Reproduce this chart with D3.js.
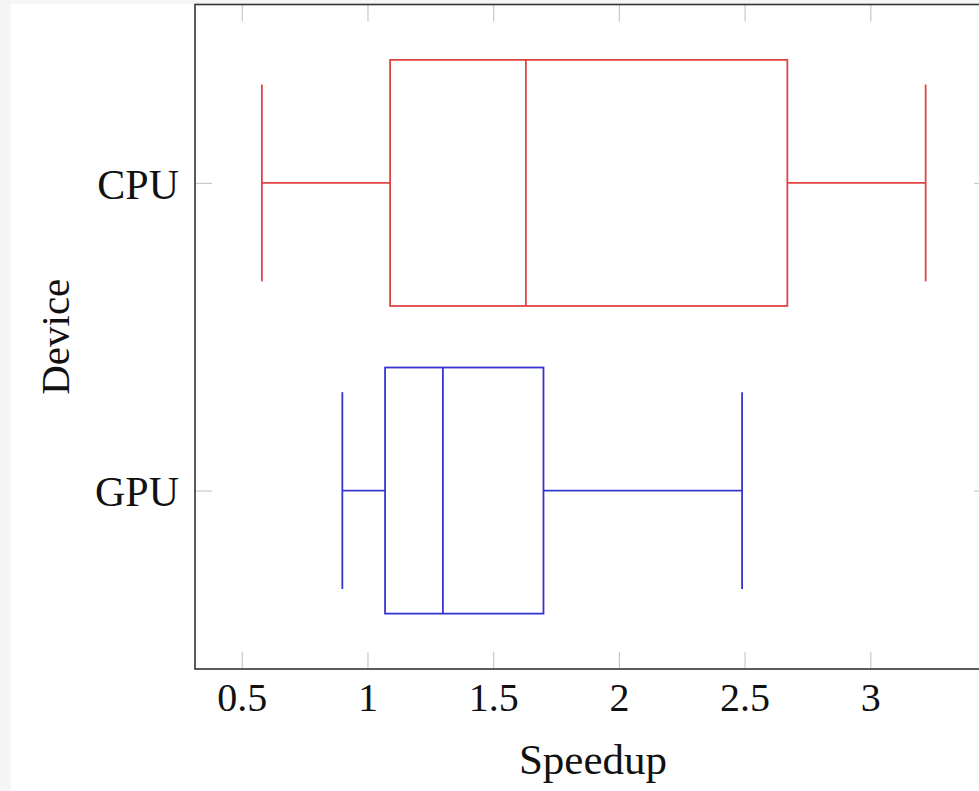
<!DOCTYPE html>
<html>
<head>
<meta charset="utf-8">
<script src="https://cdn.jsdelivr.net/npm/d3@7"></script>
<style>
  html, body { margin: 0; padding: 0; background: #f5f5f5; }
  svg { display: block; }
</style>
</head>
<body>
<svg id="chart" width="979" height="791"></svg>
<script>
// Box-plot summary statistics per device
const devices        = ["CPU", "GPU"];
const devicePos      = [2, 1];
const lowerWhisker   = [0.58, 0.90];
const lowerQuartile  = [1.09, 1.07];
const medians        = [1.63, 1.30];
const upperQuartile  = [2.67, 1.70];
const upperWhisker   = [3.22, 2.49];
const boxColors      = ["#e04343", "#3535cf"];
const xTickValues    = [0.5, 1, 1.5, 2, 2.5, 3];
const xDomain        = [0.314, 3.48];
const yDomain        = [0.42, 2.58];

const boxHalf = 0.4;      // half box height, in category units
const capHalf = 0.32;     // half whisker-cap height

const svg = d3.select("#chart");
const W = 979, H = 791;
const plot = { left: 195, right: 991, top: 4.5, bottom: 669 };

// page background
svg.append("rect").attr("x", 0).attr("y", 0).attr("width", W).attr("height", H).attr("fill", "#f5f5f5");
svg.append("rect").attr("x", 11).attr("y", 4).attr("width", W - 11).attr("height", H - 4).attr("fill", "#ffffff");

const x = d3.scaleLinear().domain(xDomain).range([plot.left, plot.right]);
const y = d3.scaleLinear().domain(yDomain).range([plot.bottom, plot.top]);

const font = "'Liberation Serif', 'DejaVu Serif', serif";
const tickLen = 17;
const tickColor = "#c9c9c9";

// inner tick marks on all four sides
function styleTicks(g) {
  g.select(".domain").remove();
  g.selectAll(".tick line").attr("stroke", tickColor).attr("stroke-width", 1.2);
  g.selectAll(".tick text").remove();
}
svg.append("g").attr("transform", `translate(0,${plot.bottom})`)
  .call(d3.axisBottom(x).tickValues(xTickValues).tickSize(-tickLen)).call(styleTicks);
svg.append("g").attr("transform", `translate(0,${plot.top})`)
  .call(d3.axisTop(x).tickValues(xTickValues).tickSize(-tickLen)).call(styleTicks);
svg.append("g").attr("transform", `translate(${plot.left},0)`)
  .call(d3.axisLeft(y).tickValues(devicePos).tickSize(-tickLen)).call(styleTicks);
svg.append("g").attr("transform", `translate(${plot.right},0)`)
  .call(d3.axisRight(y).tickValues(devicePos).tickSize(-tickLen)).call(styleTicks);

// tick labels
const xLabels = svg.append("g").attr("transform", `translate(0,${plot.bottom})`)
  .call(d3.axisBottom(x).tickValues(xTickValues).tickSize(0).tickFormat(d3.format("")));
xLabels.select(".domain").remove();
xLabels.selectAll(".tick text")
  .attr("y", 42).attr("dy", null)
  .attr("font-family", font).attr("font-size", 40).attr("fill", "#111");

const yLabels = svg.append("g").attr("transform", `translate(${plot.left},0)`)
  .call(d3.axisLeft(y).tickValues(devicePos).tickSize(0)
    .tickFormat(d => devices[devicePos.indexOf(d)]));
yLabels.select(".domain").remove();
yLabels.selectAll(".tick text")
  .attr("x", -16).attr("dy", "0.36em")
  .attr("font-family", font).attr("font-size", 42).attr("fill", "#111");

// axis titles
svg.append("text").attr("x", 593).attr("y", 774)
  .attr("text-anchor", "middle").attr("font-family", font).attr("font-size", 43).attr("fill", "#111")
  .text("Speedup");
svg.append("text").attr("transform", `translate(69,${(plot.top + plot.bottom) / 2}) rotate(-90)`)
  .attr("text-anchor", "middle").attr("font-family", font).attr("font-size", 41).attr("fill", "#111")
  .text("Device");

// boxes
const rows = devices.map((d, i) => ({
  name: d, pos: devicePos[i], lw: lowerWhisker[i], q1: lowerQuartile[i],
  med: medians[i], q3: upperQuartile[i], uw: upperWhisker[i], color: boxColors[i]
}));

const g = svg.append("g").attr("fill", "none").attr("stroke-width", 1.8);
const box = g.selectAll("g.box").data(rows).join("g").attr("class", "box")
  .attr("stroke", d => d.color);

// whisker stems
box.append("line").attr("x1", d => x(d.lw)).attr("x2", d => x(d.q1))
  .attr("y1", d => y(d.pos)).attr("y2", d => y(d.pos));
box.append("line").attr("x1", d => x(d.q3)).attr("x2", d => x(d.uw))
  .attr("y1", d => y(d.pos)).attr("y2", d => y(d.pos));
// whisker caps
box.append("line").attr("x1", d => x(d.lw)).attr("x2", d => x(d.lw))
  .attr("y1", d => y(d.pos + capHalf)).attr("y2", d => y(d.pos - capHalf));
box.append("line").attr("x1", d => x(d.uw)).attr("x2", d => x(d.uw))
  .attr("y1", d => y(d.pos + capHalf)).attr("y2", d => y(d.pos - capHalf));
// interquartile box
box.append("rect")
  .attr("x", d => x(d.q1)).attr("width", d => x(d.q3) - x(d.q1))
  .attr("y", d => y(d.pos + boxHalf)).attr("height", d => y(d.pos - boxHalf) - y(d.pos + boxHalf));
// median
box.append("line").attr("x1", d => x(d.med)).attr("x2", d => x(d.med))
  .attr("y1", d => y(d.pos + boxHalf)).attr("y2", d => y(d.pos - boxHalf));

// plot frame
svg.append("rect")
  .attr("x", plot.left).attr("y", plot.top)
  .attr("width", plot.right - plot.left).attr("height", plot.bottom - plot.top)
  .attr("fill", "none").attr("stroke", "#333").attr("stroke-width", 1.6);
</script>
</body>
</html>
